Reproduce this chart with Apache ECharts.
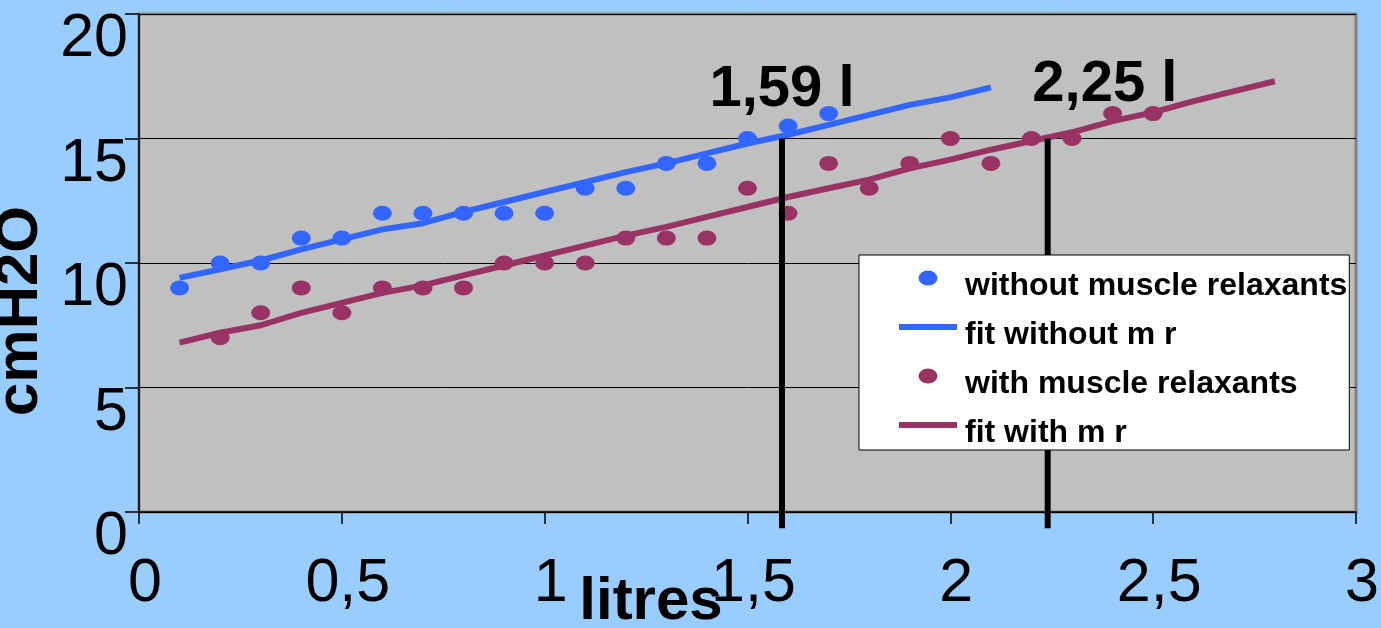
<!DOCTYPE html>
<html>
<head>
<meta charset="utf-8">
<script src="https://cdn.jsdelivr.net/npm/echarts@6/dist/echarts.min.js"></script>
<style>
  html, body { margin: 0; padding: 0; background: #99CCFF; }
  #chart { width: 1381px; height: 628px; }
</style>
</head>
<body>
<div id="chart"></div>
<script>
// ---- data ----
const xTickLabels = ['0', '0,5', '1', '1,5', '2', '2,5', '3'];
const yTickLabels = ['0', '5', '10', '15', '20'];

const seriesNames = ['without muscle relaxants', 'fit without m r', 'with muscle relaxants', 'fit with m r'];

const volumeNoMR   = [0.1, 0.2, 0.3, 0.4, 0.5, 0.6, 0.7, 0.8, 0.9, 1.0, 1.1, 1.2, 1.3, 1.4, 1.5, 1.6, 1.7];
const pressureNoMR = [9, 10, 10, 11, 11, 12, 12, 12, 12, 12, 13, 13, 14, 14, 15, 15.5, 16];

const volumeMR   = [0.2, 0.3, 0.4, 0.5, 0.6, 0.7, 0.8, 0.9, 1.0, 1.1, 1.2, 1.3, 1.4, 1.5, 1.6, 1.7, 1.8, 1.9, 2.0, 2.1, 2.2, 2.3, 2.4, 2.5];
const pressureMR = [7, 8, 9, 8, 9, 9, 9, 10, 10, 10, 11, 11, 11, 13, 12, 14, 13, 14, 15, 14, 15, 15, 16, 16];

const fitVolumeNoMR = [0.1, 0.2, 0.3, 0.4, 0.5, 0.6, 0.7, 0.8, 0.9, 1.0, 1.1, 1.2, 1.3, 1.4, 1.5, 1.6, 1.7, 1.8, 1.9, 2.0, 2.1];
const fitNoMR       = [9.4, 9.75, 10.1, 10.55, 10.95, 11.35, 11.6, 12.05, 12.45, 12.85, 13.25, 13.65, 14.0, 14.4, 14.8, 15.15, 15.55, 15.95, 16.35, 16.65, 17.05];

const fitVolumeMR = [0.1, 0.2, 0.3, 0.4, 0.5, 0.6, 0.7, 0.8, 0.9, 1.0, 1.1, 1.2, 1.3, 1.4, 1.5, 1.6, 1.7, 1.8, 1.9, 2.0, 2.1, 2.2, 2.3, 2.4, 2.5, 2.6, 2.7, 2.8];
const fitMR       = [6.8, 7.2, 7.5, 8.0, 8.4, 8.8, 9.1, 9.5, 9.9, 10.3, 10.7, 11.1, 11.45, 11.85, 12.25, 12.65, 13.0, 13.35, 13.8, 14.15, 14.55, 14.9, 15.25, 15.7, 16.05, 16.5, 16.9, 17.3];

// vertical markers (volume at 15 cmH2O) and their labels
const markerVolumes = [1.585, 2.24];
const markerTop = 15;
const markerBottom = -0.65;
const markerLabels = ['1,59 l', '2,25 l'];
const markerLabelPos = [[1.585, 16.95], [2.381, 17.15]];

// ---- styling ----
const BLUE = '#3366FF';
const PURPLE = '#993366';
const FONT = '"Liberation Sans", Arial, Helvetica, sans-serif';
const ELLIPSE = 'path://M0,7.5 A9.5,7.5 0 1,1 19,7.5 A9.5,7.5 0 1,1 0,7.5 Z';
const BAR = 'path://M0,0 L58,0 L58,6 L0,6 Z';

const zip = (xs, ys) => xs.map((x, i) => [x, ys[i]]);

const series = [
  {
    name: seriesNames[0], type: 'scatter', data: zip(volumeNoMR, pressureNoMR),
    symbol: ELLIPSE, symbolSize: [19, 15], itemStyle: { color: BLUE, opacity: 1 }, z: 3
  },
  {
    name: seriesNames[1], type: 'line', data: zip(fitVolumeNoMR, fitNoMR),
    symbol: 'none', showSymbol: false, lineStyle: { color: BLUE, width: 6 }, itemStyle: { color: BLUE }, z: 2
  },
  {
    name: seriesNames[2], type: 'scatter', data: zip(volumeMR, pressureMR),
    symbol: ELLIPSE, symbolSize: [19, 15], itemStyle: { color: PURPLE, opacity: 1 }, z: 3
  },
  {
    name: seriesNames[3], type: 'line', data: zip(fitVolumeMR, fitMR),
    symbol: 'none', showSymbol: false, lineStyle: { color: PURPLE, width: 6 }, itemStyle: { color: PURPLE }, z: 2
  }
];

markerVolumes.forEach((v, i) => {
  series.push({
    name: 'marker' + i, type: 'line', clip: false, silent: true,
    data: [[v, markerTop], [v, markerBottom]],
    symbol: 'none', lineStyle: { color: '#000', width: 6 }, z: 4
  });
});

series.push({
  name: 'markerLabels', type: 'scatter', silent: true, symbolSize: 1,
  itemStyle: { color: 'transparent', opacity: 1 },
  data: markerLabelPos.map((p, i) => ({ value: p, label: { formatter: markerLabels[i] } })),
  label: {
    show: true, position: 'inside', align: 'center', verticalAlign: 'middle',
    fontFamily: FONT, fontSize: 58, fontWeight: 'bold', color: '#000', opacity: 1
  },
  z: 5
});

const chart = echarts.init(document.getElementById('chart'), null, { renderer: 'canvas' });
chart.setOption({
  backgroundColor: '#99CCFF',
  animation: false,
  textStyle: { fontFamily: FONT },
  grid: {
    left: 139, top: 14, right: 25, bottom: 116,
    containLabel: false, outerBoundsMode: 'none',
    show: true, backgroundColor: '#C0C0C0', borderColor: '#808080', borderWidth: 3
  },
  legend: {
    data: seriesNames.map((n, i) => ({ name: n, icon: i % 2 === 0 ? ELLIPSE : BAR })),
    orient: 'vertical',
    left: 859, top: 255,
    padding: [1, 2, 1, 40],
    itemWidth: 58, itemHeight: 15, itemGap: 3,
    z: 20,
    backgroundColor: '#FFFFFF', borderColor: '#000', borderWidth: 1, borderRadius: 0,
    itemStyle: { opacity: 1 },
    formatter: (name) => '{s| }\n{t|' + name + '}',
    textStyle: {
      fontFamily: FONT, fontSize: 32, fontWeight: 'bold', color: '#000',
      rich: {
        s: { fontSize: 1, lineHeight: 16, height: 16 },
        t: { fontFamily: FONT, fontSize: 32, fontWeight: 'bold', color: '#000', lineHeight: 28, padding: [0, 0, 0, 3] }
      }
    },
    selectedMode: false
  },
  xAxis: {
    type: 'value', min: 0, max: 3, interval: 0.5,
    name: 'litres', nameLocation: 'middle', nameGap: 60, nameMoveOverlap: false,
    nameTextStyle: { fontFamily: FONT, fontSize: 60, fontWeight: 'bold', color: '#000', padding: [0, 193, 0, 0] },
    axisLine: { show: true, onZero: false, lineStyle: { color: '#000', width: 1.5 } },
    axisTick: { show: true, length: 12, inside: false, lineStyle: { color: '#000', width: 1.5 } },
    splitLine: { show: false },
    axisLabel: {
      margin: 42, fontFamily: FONT, fontSize: 61, color: '#000', padding: [0, 0, 0, 12],
      formatter: (v) => xTickLabels[Math.round(v / 0.5)]
    }
  },
  yAxis: {
    type: 'value', min: 0, max: 20, interval: 5,
    name: 'cmH2O', nameLocation: 'middle', nameGap: 89, nameMoveOverlap: false,
    nameTextStyle: { fontFamily: FONT, fontSize: 60, fontWeight: 'bold', color: '#000', padding: [0, 96, 0, 0] },
    axisLine: { show: true, lineStyle: { color: '#000', width: 1.5 } },
    axisTick: { show: true, length: 14, inside: false, lineStyle: { color: '#000', width: 1.5 } },
    splitLine: { show: true, lineStyle: { color: '#000', width: 1 } },
    axisLabel: {
      margin: 11, fontFamily: FONT, fontSize: 61, color: '#000',
      verticalAlign: 'top', lineHeight: 51,
      formatter: (v) => yTickLabels[Math.round(v / 5)]
    }
  },
  series: series
});
</script>
</body>
</html>
